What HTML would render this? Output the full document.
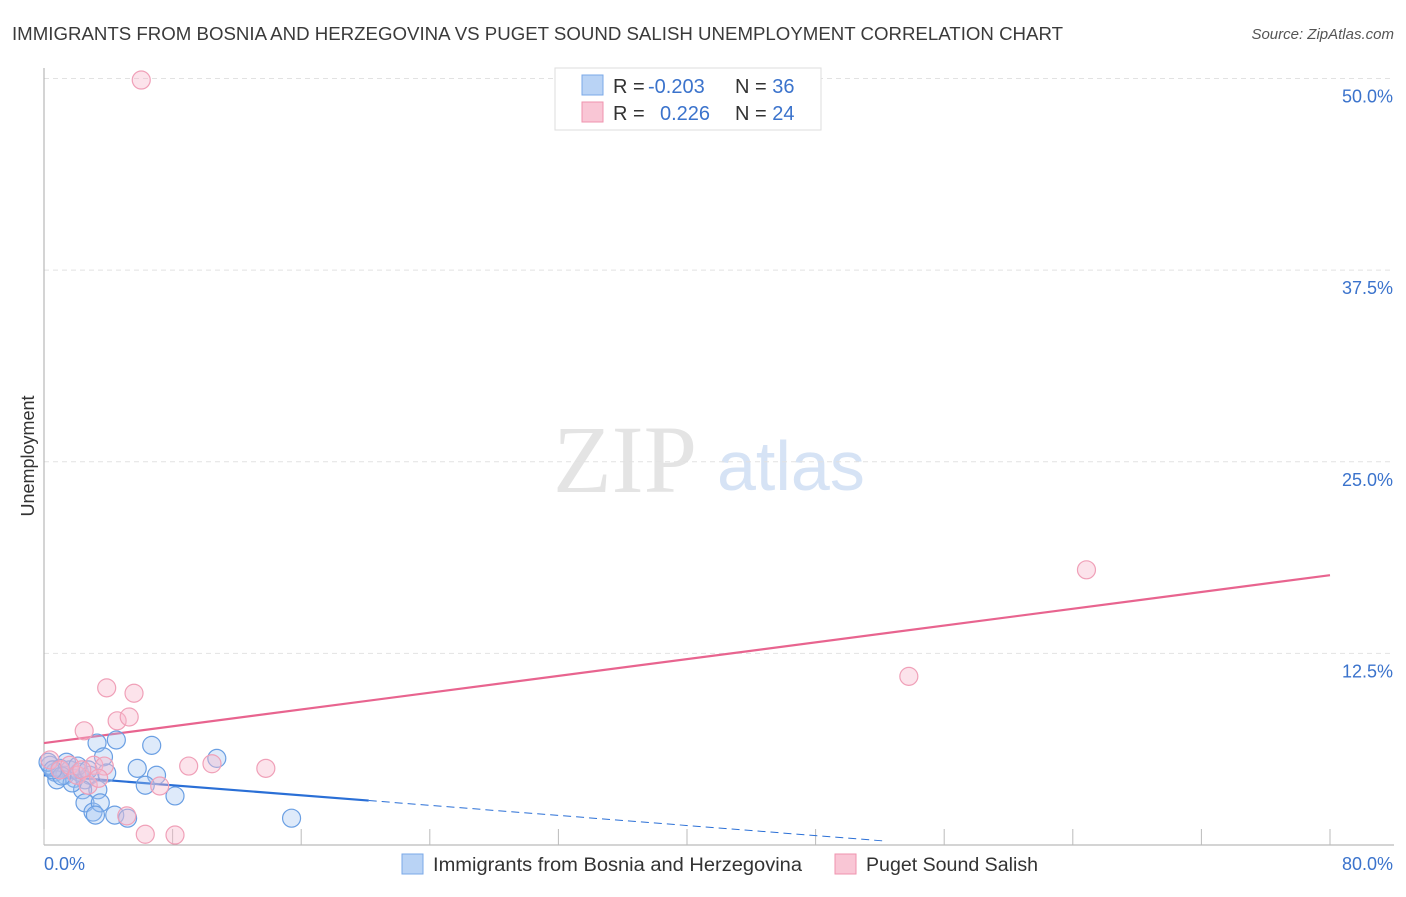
<!DOCTYPE html>
<html><head><meta charset="utf-8"><style>
body{margin:0;background:#fff;font-family:"Liberation Sans",sans-serif;}
svg text{font-family:"Liberation Sans",sans-serif;}
</style></head><body>
<svg id="chart" width="1406" height="892">
<text x="12" y="40" font-size="18" fill="#3a3a3a" textLength="1051" lengthAdjust="spacingAndGlyphs">IMMIGRANTS FROM BOSNIA AND HERZEGOVINA VS PUGET SOUND SALISH UNEMPLOYMENT CORRELATION CHART</text>
<text x="1394" y="39" font-size="15" fill="#555" font-style="italic" text-anchor="end">Source: ZipAtlas.com</text>
<text transform="translate(34,456) rotate(-90)" font-size="18" fill="#333" text-anchor="middle">Unemployment</text>
<text x="553" y="492" font-size="96" fill="#e4e4e4" style="font-family:'Liberation Serif',serif">ZIP</text>
<text x="717" y="490" font-size="70" fill="#d6e3f5">atlas</text>
<g id="grid"></g><g id="axes"></g><g id="lines"></g><g id="pts"></g>
<g>
<rect x="555" y="68" width="266" height="62" fill="#fff" stroke="#ddd"/>
<rect x="582" y="75" width="21" height="20" fill="#b9d3f5" stroke="#7aa8e8"/>
<rect x="582" y="102" width="21" height="20" fill="#f9c6d5" stroke="#ef93ae"/>
<text x="613" y="93" font-size="20" fill="#333">R = <tspan x="648" fill="#3b73cc">-0.203</tspan><tspan x="735">N = </tspan><tspan fill="#3b73cc">36</tspan></text>
<text x="613" y="120" font-size="20" fill="#333">R = <tspan x="660" fill="#3b73cc">0.226</tspan><tspan x="735">N = </tspan><tspan fill="#3b73cc">24</tspan></text>
</g>
<g>
<rect x="402" y="854" width="21" height="20" fill="#b9d3f5" stroke="#7aa8e8"/>
<text x="433" y="871" font-size="19" fill="#333" textLength="369" lengthAdjust="spacingAndGlyphs">Immigrants from Bosnia and Herzegovina</text>
<rect x="835" y="854" width="21" height="20" fill="#f9c6d5" stroke="#ef93ae"/>
<text x="866" y="871" font-size="19" fill="#333" textLength="172" lengthAdjust="spacingAndGlyphs">Puget Sound Salish</text>
</g>
</svg>
<script>
const blueX=[0.37,0.68,1.0,1.3,1.6,1.9,2.2,0.25,0.8,1.4,2.55,2.85,3.3,3.7,3.9,4.5,3.35,2.4,2.55,3.05,3.5,3.2,4.4,5.2,5.8,6.7,7.0,6.3,8.15,10.75,15.4,1.75,1.1,0.55,2.1,2.75];
const blueY=[5.2,4.75,5.0,4.55,4.9,4.35,4.75,5.4,4.25,5.4,4.25,4.55,6.65,5.75,4.7,6.85,3.6,3.6,2.75,2.15,2.75,1.95,1.95,1.75,5.0,6.5,4.55,3.9,3.2,5.65,1.75,4.05,4.5,4.9,5.15,4.9];
const pinkX=[6.05,3.9,5.6,4.55,5.3,2.5,3.1,3.75,9.0,10.45,13.8,5.15,6.3,8.15,0.37,1.0,1.6,2.05,2.35,2.75,3.4,7.2,53.8,64.85];
const pinkY=[49.9,10.25,9.9,8.1,8.35,7.45,5.2,5.15,5.15,5.3,5.0,1.9,0.7,0.65,5.55,4.9,5.2,4.55,4.9,3.9,4.35,3.85,11.0,17.95];
const yTicks=[12.5,25.0,37.5,50.0];
const xTickVals=[0,8,16,24,32,40,48,56,64,72,80];
const pinkTrend=[6.65,17.6];
const blueTrend=[4.55,2.9,0.26];
const blueTrendX=[0,20.2,52.3];
const X=v=>44+v*16.075, Y=v=>845-v*15.33;
const NS='http://www.w3.org/2000/svg';
function mk(p,t,a){const e=document.createElementNS(NS,t);for(const k in a)e.setAttribute(k,a[k]);document.getElementById(p).appendChild(e);return e;}
yTicks.forEach(v=>{
 const l=mk('grid','line',{x1:44,x2:1394,y1:Y(v),y2:Y(v),stroke:'#e2e2e2','stroke-dasharray':'5,4'});
 
 
 const t=mk('grid','text',{x:1393,y:Y(v)+24,'font-size':18,fill:'#3b73cc','text-anchor':'end'});t.textContent=v.toFixed(1)+'%';
 
 
});
const ya=mk('axes','line',{x1:44,x2:44,y1:68,y2:845,stroke:'#aaa'});


const xa=mk('axes','line',{x1:44,x2:1394,y1:845,y2:845,stroke:'#aaa'});


xTickVals.forEach(v=>{const t=mk('axes','line',{x1:X(v),x2:X(v),y1:829,y2:845,stroke:'#bbb'});
 
 });
[[0,'0.0%','start',44],[80,'80.0%','end',1393]].forEach(a=>{const t=mk('axes','text',{x:a[3],y:870,'font-size':18,fill:'#3b73cc','text-anchor':a[2]});t.textContent=a[1];
 
 });
const pl=mk('lines','line',{x1:X(0),y1:Y(pinkTrend[0]),x2:X(80),y2:Y(pinkTrend[1]),stroke:'#e8648f','stroke-width':2.2});


const bl=mk('lines','line',{x1:X(blueTrendX[0]),y1:Y(blueTrend[0]),x2:X(blueTrendX[1]),y2:Y(blueTrend[1]),stroke:'#2a6fd6','stroke-width':2.2});


const bd=mk('lines','line',{x1:X(blueTrendX[1]),y1:Y(blueTrend[1]),x2:X(blueTrendX[2]),y2:Y(blueTrend[2]),stroke:'#2a6fd6','stroke-width':1,'stroke-dasharray':'8,5'});


blueX.forEach((v,i)=>{const c=mk('pts','circle',{cx:X(v),cy:Y(blueY[i]),r:9,fill:'rgba(160,195,240,0.35)',stroke:'#6a9fe3','stroke-width':1.2});
 
 });
pinkX.forEach((v,i)=>{const c=mk('pts','circle',{cx:X(v),cy:Y(pinkY[i]),r:9,fill:'rgba(248,185,205,0.4)',stroke:'#f0a0b8','stroke-width':1.2});
 
 });
</script>
</body></html>
